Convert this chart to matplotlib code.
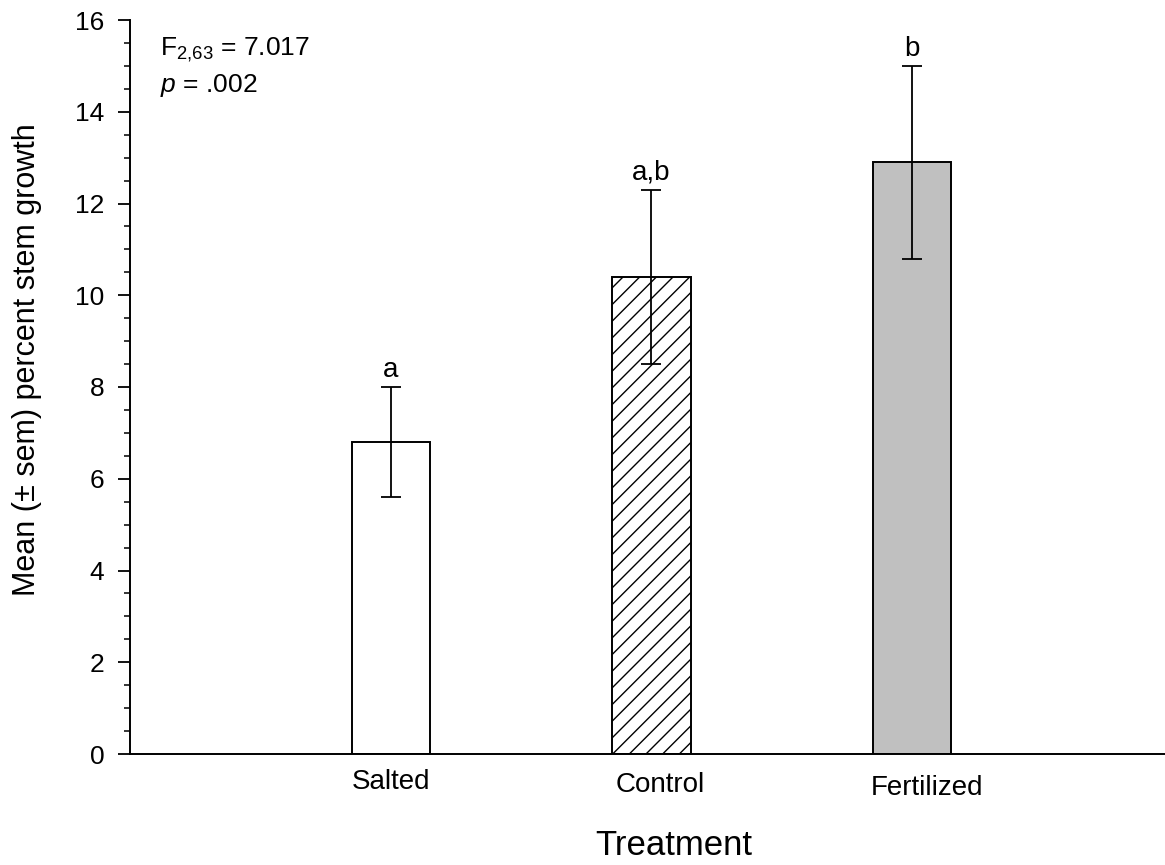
import numpy as np
import matplotlib
matplotlib.use('Agg')
import matplotlib.pyplot as plt
from matplotlib.ticker import MultipleLocator
from matplotlib.transforms import ScaledTranslation

plt.rcParams['font.family'] = ['Liberation Sans', 'DejaVu Sans']
plt.rcParams['mathtext.fontset'] = 'custom'
plt.rcParams['mathtext.rm'] = 'Liberation Sans'
plt.rcParams['mathtext.it'] = 'Liberation Sans:italic'
plt.rcParams['hatch.linewidth'] = 1.0

treatments = ['Salted', 'Control', 'Fertilized']
means = [6.8, 10.4, 12.9]
sems = [1.2, 1.9, 2.1]
groups = ['a', 'a,b', 'b']
fills = ['white', 'white', '#c0c0c0']
hatches = ['', '//', '']

fig = plt.figure(figsize=(11.65, 8.65), dpi=100)
ax = fig.add_axes([130 / 1165, 111 / 865, 1035 / 1165, 734 / 865])

x = np.arange(1, len(treatments) + 1)
for xi, m, s, fc, h in zip(x, means, sems, fills, hatches):
    ax.bar(xi, m, width=0.3, color=fc, edgecolor='black', linewidth=1.4,
           hatch=h, zorder=2)
    ax.errorbar(xi, m, yerr=s, fmt='none', ecolor='black', elinewidth=1.3,
                capsize=7.5, capthick=1.3, zorder=3)

for xi, m, s, g in zip(x, means, sems, groups):
    ax.annotate(g, (xi, m + s), xytext=(0, 3), textcoords='offset points',
                ha='center', va='bottom', fontsize=20)

ax.set_xlim(0, 3.97)
ax.set_ylim(0, 16)
ax.yaxis.set_major_locator(MultipleLocator(2))
ax.yaxis.set_minor_locator(MultipleLocator(0.5))
ax.tick_params(axis='y', which='major', direction='out', length=8.5, width=1.3,
               labelsize=19, pad=10)
ax.tick_params(axis='y', which='minor', direction='out', length=4.5, width=1.1)
ax.tick_params(axis='x', length=0, labelsize=20, pad=11)
ax.set_xticks(x)
ax.set_xticklabels(treatments)

# category labels sit slightly staggered, drifting right and down
shifts = [(0, 0), (9, -3), (15, -6)]
for lab, (dx, dy) in zip(ax.get_xticklabels(), shifts):
    lab.set_transform(lab.get_transform() +
                      ScaledTranslation(dx / 100, dy / 100, fig.dpi_scale_trans))

for side in ['top', 'right']:
    ax.spines[side].set_visible(False)
for side in ['left', 'bottom']:
    ax.spines[side].set_linewidth(1.4)

fig.text(27 / 1165, 1 - 360 / 865, 'Mean (\u00b1 sem) percent stem growth',
         rotation=90, ha='center', va='center', fontsize=22)
fig.text(674 / 1165, 10 / 865, 'Treatment', ha='center', va='baseline', fontsize=25)

ax.text(0.029, 0.952, '$\\mathregular{F_{2{,}63}}$ = 7.017', transform=ax.transAxes,
        fontsize=19, va='baseline', ha='left')
ax.text(0.029, 0.902, '$\\it{p}$ = .002', transform=ax.transAxes,
        fontsize=19, va='baseline', ha='left')

fig.savefig('out.png', dpi=100)
